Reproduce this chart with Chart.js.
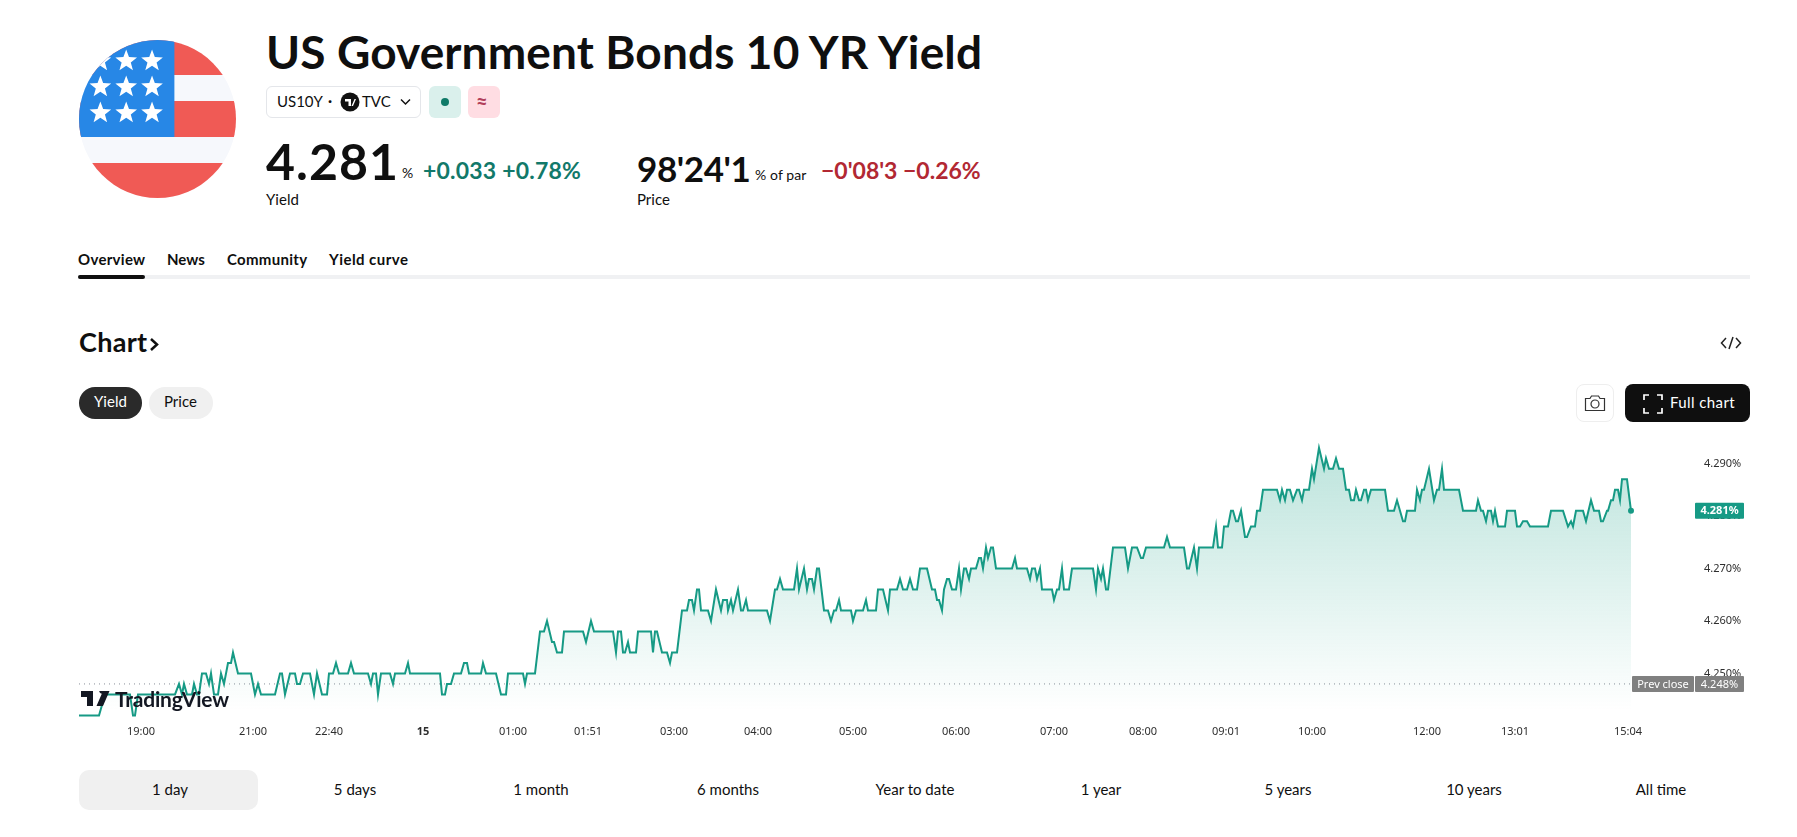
<!DOCTYPE html>
<html>
<head>
<meta charset="utf-8">
<title>US Government Bonds 10 YR Yield</title>
<script src="https://cdn.jsdelivr.net/npm/chart.js@4"></script>
<style>
    html, body { margin: 0; padding: 0; background: #fff; overflow: hidden; }
    body { width: 1797px; height: 837px; position: relative; font-family: "Lato", sans-serif; color: #0f0f0f; }
    .t { position: absolute; white-space: nowrap; line-height: 1; }
    .box { position: absolute; box-sizing: border-box; }
    #chartWrap { position: absolute; left: 79px; top: 431px; width: 1680px; height: 320px; }
</style>
</head>
<body>

<!-- flag -->
<svg class="box" style="left:79px;top:40px" width="157" height="158" viewBox="0 0 158 158" preserveAspectRatio="none">
    <defs><clipPath id="flagClip"><circle cx="79" cy="79" r="79"/></clipPath></defs>
    <g clip-path="url(#flagClip)">
        <rect width="158" height="158" fill="#f6f8fc"/>
        <rect y="0" width="158" height="35" fill="#f05a55"/>
        <rect y="61" width="158" height="36" fill="#f05a55"/>
        <rect y="123" width="158" height="35" fill="#f05a55"/>
        <rect width="96" height="97" fill="#2787e6"/>
        <g id="stars" fill="#fff"></g>
    </g>
</svg>

<div class="t" style="left:266px;top:29px;font-size:46px;font-weight:700;letter-spacing:.12px">US Government Bonds 10 YR Yield</div>

<!-- symbol pill -->
<div class="box" style="left:266px;top:86px;width:155px;height:32px;border:1px solid #e4e6ea;border-radius:6px"></div>
<div class="t" style="left:277px;top:94px;font-size:15px">US10Y</div>
<div class="t" style="left:328px;top:93px;font-size:15px;font-weight:700">·</div>
<svg class="box" style="left:340px;top:92px" width="20" height="20"><circle cx="10" cy="10" r="9.5" fill="#111"/><path d="M5 7h6v7H8.5v-4.500H5zM11.500 14l3-7h1.500l-3 7z" fill="#fff"/></svg>
<div class="t" style="left:362px;top:94px;font-size:15px">TVC</div>
<svg class="box" style="left:400px;top:98px" width="11" height="8"><path d="M1 1.500l4.500 4.500 4.500-4.500" fill="none" stroke="#111" stroke-width="1.500"/></svg>
<div class="box" style="left:429px;top:86px;width:32px;height:32px;border-radius:6px;background:#daf0ec"></div>
<div class="box" style="left:441px;top:98px;width:8px;height:8px;border-radius:50%;background:#0f7a68"></div>
<div class="box" style="left:468px;top:86px;width:32px;height:32px;border-radius:6px;background:#ffdde3"></div>
<div class="t" style="left:476px;top:91px;font-size:20px;font-weight:700;color:#b2405a">≈</div>

<!-- quote -->
<div class="t" style="left:266px;top:136px;font-size:50px;font-weight:700;letter-spacing:1px">4.281</div>
<div class="t" style="left:402px;top:166px;font-size:14px">%</div>
<div class="t" style="left:423px;top:159px;font-size:23px;font-weight:700;color:#12796a;letter-spacing:.2px">+0.033 +0.78%</div>
<div class="t" style="left:266px;top:192px;font-size:15px">Yield</div>
<div class="t" style="left:637px;top:151px;font-size:35px;font-weight:700;letter-spacing:-.4px">98'24'1</div>
<div class="t" style="left:755px;top:168px;font-size:14px;letter-spacing:.1px">% of par</div>
<div class="t" style="left:821px;top:159px;font-size:23px;font-weight:700;color:#b22833;letter-spacing:0">−0'08'3 −0.26%</div>
<div class="t" style="left:637px;top:192px;font-size:15px">Price</div>

<!-- tabs -->
<div class="t" style="left:78px;top:252px;font-size:15px;font-weight:700;letter-spacing:.3px">Overview</div>
<div class="t" style="left:167px;top:252px;font-size:15px;font-weight:700">News</div>
<div class="t" style="left:227px;top:252px;font-size:15px;font-weight:700;letter-spacing:.3px">Community</div>
<div class="t" style="left:329px;top:252px;font-size:15px;font-weight:700;letter-spacing:.45px">Yield curve</div>
<div class="box" style="left:78px;top:275px;width:1672px;height:4px;background:#f0f1f3"></div>
<div class="box" style="left:78px;top:275px;width:67px;height:4px;background:#0f0f0f;border-radius:2px"></div>

<!-- section header -->
<div class="t" style="left:79px;top:328px;font-size:27px;font-weight:700;letter-spacing:.3px">Chart</div>
<svg class="box" style="left:149px;top:337px" width="11" height="15"><path d="M2 2l6 5.500-6 5.500" fill="none" stroke="#0f0f0f" stroke-width="2.500"/></svg>
<svg class="box" style="left:1720px;top:335px" width="22" height="16"><path d="M6 3L1.500 8 6 13M16 3l4.500 5-4.500 5M13 2L9 14" fill="none" stroke="#222" stroke-width="1.500"/></svg>

<div class="box" style="left:79px;top:387px;width:63px;height:32px;border-radius:16px;background:#2a2a2a"></div>
<div class="t" style="left:94px;top:394px;font-size:15px;color:#fff">Yield</div>
<div class="box" style="left:149px;top:387px;width:64px;height:32px;border-radius:16px;background:#f0f0f0"></div>
<div class="t" style="left:164px;top:394px;font-size:15px">Price</div>

<div class="box" style="left:1576px;top:384px;width:38px;height:38px;border:1px solid #eee;border-radius:8px"></div>
<svg class="box" style="left:1584px;top:394px" width="22" height="18"><path d="M1.500 4.500h4.500l1.500-2.500h7l1.500 2.500h4.500v12h-19z" fill="none" stroke="#333" stroke-width="1.200"/><circle cx="11" cy="10" r="4" fill="none" stroke="#333" stroke-width="1.200"/></svg>
<div class="box" style="left:1625px;top:384px;width:125px;height:38px;border-radius:8px;background:#0f0f0f"></div>
<svg class="box" style="left:1643px;top:394px" width="20" height="20"><path d="M1 6V1h5M14 1h5v5M19 14v5h-5M6 19H1v-5" fill="none" stroke="#fff" stroke-width="1.700"/></svg>
<div class="t" style="left:1670px;top:395px;font-size:15px;color:#fff;letter-spacing:.4px">Full chart</div>

<div id="chartWrap"><canvas id="yieldChart"></canvas></div>

<!-- logo sits on top of the chart -->
<svg class="box" style="left:81px;top:691px" width="29" height="15" viewBox="0 0 29 15"><path d="M0 0h12v15H6V6H0zM15.500 0h2.700a2.600 2.600 0 1 1 0 .1zM28.500 0L22 15h-6.500L22 0z" fill="#131722"/></svg>
<div class="t" style="left:115px;top:688px;font-size:21px;font-weight:700;color:#131722;letter-spacing:-.2px">TradingView</div>

<!-- range buttons -->
<div class="box" style="left:79px;top:770px;width:179px;height:40px;border-radius:10px;background:#f0f0f0"></div>
<div id="ranges"></div>

<script>
    // Time axis is in chart bars counted from the first bar of the session
    const barIndex = [
        0, 20, 23, 26, 51, 54, 56, 59, 96, 100,
        103, 105, 108, 113, 115, 118, 120, 123, 127, 130,
        132, 135, 139, 142, 145, 149, 152, 154, 159, 172,
        176, 179, 182, 196, 201, 203, 206, 211, 216, 218,
        221, 224, 231, 235, 238, 243, 248, 250, 254, 257,
        260, 269, 272, 275, 289, 292, 294, 297, 299, 302,
        311, 314, 316, 326, 329, 331, 361, 363, 366, 368,
        372, 375, 382, 385, 388, 390, 402, 404, 407, 417,
        422, 427, 429, 444, 446, 448, 456, 461, 465, 468,
        473, 475, 478, 483, 485, 504, 507, 512, 515, 534,
        537, 539, 542, 544, 546, 549, 551, 557, 559, 572,
        574, 576, 578, 583, 588, 591, 593, 598, 603, 608,
        610, 613, 615, 618, 620, 622, 629, 632, 637, 642,
        644, 648, 649, 652, 654, 659, 662, 664, 667, 669,
        688, 691, 696, 698, 701, 704, 715, 718, 720, 725,
        728, 730, 733, 735, 738, 740, 745, 749, 752, 755,
        757, 760, 762, 772, 774, 777, 784, 787, 789, 797,
        799, 804, 809, 811, 818, 821, 824, 828, 831, 834,
        838, 841, 848, 853, 856, 858, 860, 863, 865, 868,
        870, 873, 877, 880, 882, 885, 887, 890, 892, 897,
        900, 902, 904, 907, 909, 912, 914, 917, 933, 936,
        938, 948, 951, 953, 956, 958, 961, 963, 973, 975,
        978, 980, 983, 985, 990, 993, 1014, 1017, 1019, 1022,
        1024, 1027, 1029, 1034, 1046, 1049, 1053, 1058, 1062, 1064,
        1067, 1085, 1088, 1091, 1105, 1108, 1110, 1115, 1118, 1120,
        1134, 1137, 1139, 1143, 1145, 1149, 1152, 1154, 1157, 1159,
        1162, 1166, 1168, 1172, 1176, 1178, 1181, 1184, 1198, 1201,
        1203, 1206, 1208, 1211, 1214, 1218, 1220, 1223, 1225, 1230,
        1233, 1235, 1240, 1245, 1247, 1250, 1254, 1257, 1260, 1264,
        1267, 1270, 1272, 1275, 1277, 1280, 1282, 1285, 1287, 1289,
        1292, 1306, 1309, 1315, 1318, 1324, 1326, 1328, 1336, 1338,
        1341, 1343, 1345, 1350, 1355, 1358, 1360, 1363, 1365, 1380,
        1384, 1397, 1399, 1402, 1404, 1407, 1409, 1412, 1414, 1416,
        1419, 1426, 1428, 1436, 1438, 1441, 1444, 1448, 1451, 1469,
        1472, 1484, 1489, 1492, 1494, 1497, 1504, 1507, 1512, 1515,
        1520, 1522, 1524, 1528, 1529, 1532, 1534, 1536, 1539, 1541,
        1543, 1548, 1552
    ];
    const yieldValues = [
        4.242, 4.242, 4.244, 4.246, 4.246, 4.242, 4.242, 4.246, 4.246, 4.248,
        4.246, 4.248, 4.246, 4.246, 4.248, 4.246, 4.246, 4.250, 4.250, 4.248,
        4.250, 4.246, 4.246, 4.250, 4.248, 4.252, 4.252, 4.254, 4.250, 4.250,
        4.246, 4.248, 4.246, 4.246, 4.250, 4.250, 4.246, 4.250, 4.250, 4.248,
        4.248, 4.250, 4.250, 4.246, 4.250, 4.246, 4.246, 4.250, 4.250, 4.252,
        4.250, 4.250, 4.252, 4.250, 4.250, 4.248, 4.250, 4.250, 4.246, 4.250,
        4.250, 4.248, 4.250, 4.250, 4.252, 4.250, 4.250, 4.246, 4.246, 4.248,
        4.248, 4.250, 4.250, 4.252, 4.252, 4.250, 4.250, 4.252, 4.250, 4.250,
        4.246, 4.246, 4.250, 4.250, 4.248, 4.250, 4.250, 4.258, 4.258, 4.260,
        4.256, 4.256, 4.254, 4.254, 4.258, 4.258, 4.256, 4.260, 4.258, 4.258,
        4.254, 4.258, 4.258, 4.254, 4.254, 4.256, 4.254, 4.254, 4.258, 4.258,
        4.254, 4.258, 4.258, 4.254, 4.254, 4.252, 4.254, 4.254, 4.262, 4.262,
        4.264, 4.264, 4.262, 4.266, 4.266, 4.262, 4.262, 4.260, 4.266, 4.262,
        4.264, 4.264, 4.262, 4.264, 4.262, 4.266, 4.262, 4.262, 4.264, 4.262,
        4.262, 4.260, 4.266, 4.266, 4.268, 4.266, 4.266, 4.270, 4.266, 4.270,
        4.266, 4.268, 4.268, 4.266, 4.270, 4.270, 4.262, 4.262, 4.260, 4.262,
        4.262, 4.264, 4.262, 4.262, 4.260, 4.262, 4.262, 4.264, 4.262, 4.262,
        4.266, 4.266, 4.262, 4.266, 4.266, 4.268, 4.266, 4.266, 4.268, 4.266,
        4.266, 4.270, 4.270, 4.266, 4.266, 4.264, 4.264, 4.262, 4.266, 4.268,
        4.268, 4.266, 4.266, 4.270, 4.266, 4.270, 4.270, 4.268, 4.270, 4.270,
        4.272, 4.272, 4.270, 4.274, 4.272, 4.274, 4.274, 4.270, 4.270, 4.272,
        4.270, 4.270, 4.268, 4.270, 4.270, 4.268, 4.270, 4.266, 4.266, 4.264,
        4.266, 4.266, 4.270, 4.266, 4.266, 4.270, 4.270, 4.266, 4.270, 4.268,
        4.270, 4.266, 4.266, 4.274, 4.274, 4.270, 4.274, 4.274, 4.272, 4.272,
        4.274, 4.274, 4.276, 4.274, 4.274, 4.270, 4.270, 4.274, 4.270, 4.274,
        4.274, 4.278, 4.274, 4.274, 4.278, 4.278, 4.281, 4.281, 4.279, 4.279,
        4.281, 4.276, 4.276, 4.278, 4.278, 4.281, 4.281, 4.285, 4.285, 4.283,
        4.285, 4.283, 4.285, 4.285, 4.283, 4.285, 4.285, 4.283, 4.285, 4.285,
        4.289, 4.287, 4.293, 4.289, 4.291, 4.289, 4.289, 4.291, 4.289, 4.289,
        4.285, 4.285, 4.283, 4.283, 4.285, 4.283, 4.283, 4.285, 4.285, 4.283,
        4.285, 4.285, 4.281, 4.281, 4.283, 4.279, 4.279, 4.281, 4.281, 4.285,
        4.283, 4.285, 4.285, 4.289, 4.283, 4.285, 4.285, 4.289, 4.285, 4.285,
        4.281, 4.281, 4.283, 4.281, 4.281, 4.279, 4.281, 4.281, 4.279, 4.281,
        4.278, 4.278, 4.281, 4.281, 4.278, 4.278, 4.279, 4.279, 4.278, 4.278,
        4.281, 4.281, 4.278, 4.279, 4.278, 4.281, 4.281, 4.279, 4.283, 4.281,
        4.281, 4.279, 4.279, 4.281, 4.281, 4.283, 4.283, 4.285, 4.285, 4.283,
        4.287, 4.287, 4.281
    ];
    const tickBars = [62, 174, 250, 344, 434, 509, 595, 679, 774, 877, 975, 1064, 1147, 1233, 1348, 1436, 1549];
    const tickLabels = ["19:00", "21:00", "22:40", "15", "01:00", "01:51", "03:00", "04:00", "05:00", "06:00", "07:00", "08:00", "09:01", "10:00", "12:00", "13:01", "15:04"];
    const prevClose = 4.248;
    const lastValue = 4.281;
    const rangeLabels = ["1 day", "5 days", "1 month", "6 months", "Year to date", "1 year", "5 years", "10 years", "All time"];
    const rangeCenters = [170, 355, 541, 728, 915, 1101, 1288, 1474, 1661];

    const lineColor = "#169a85";
    const grayLabel = "#808080";
    const tickFont = '"Noto Sans", sans-serif';

    // flag stars
    const starsEl = document.getElementById("stars");
    [21.5, 47.5, 73.5].forEach((cx) => {
        [21, 47, 73].forEach((cy) => {
            let pts = [];
            for (let i = 0; i < 10; i++) {
                const r = i % 2 === 0 ? 11.5 : 4.8;
                const a = -Math.PI / 2 + (i * Math.PI) / 5;
                pts.push((cx + r * Math.cos(a)).toFixed(1) + "," + (cy + r * Math.sin(a)).toFixed(1));
            }
            const star = document.createElementNS("http://www.w3.org/2000/svg", "polygon");
            star.setAttribute("points", pts.join(" "));
            starsEl.appendChild(star);
        });
    });

    // range buttons
    const rangesEl = document.getElementById("ranges");
    rangeLabels.forEach((label, i) => {
        const d = document.createElement("div");
        d.className = "t";
        d.textContent = label;
        d.style.cssText = "top:782px;font-size:15px;transform:translateX(-50%);left:" + rangeCenters[i] + "px";
        rangesEl.appendChild(d);
    });

    // Labels on the price axis for last value and previous close
    const priceLabels = {
        id: "priceLabels",
        afterDraw(chart) {
            const { ctx, scales } = chart;
            const drawBox = (x, w, y, color, text, weight) => {
                ctx.fillStyle = color;
                ctx.beginPath();
                ctx.roundRect(x, y - 8, w, 16, 1);
                ctx.fill();
                ctx.fillStyle = "#fff";
                ctx.font = weight + " 11px " + tickFont;
                ctx.textAlign = "center";
                ctx.textBaseline = "middle";
                ctx.fillText(text, x + w / 2, y + 0.5);
            };
            const axisX = scales.y.left - 5;
            const yLast = scales.y.getPixelForValue(lastValue);
            const yPrev = scales.y.getPixelForValue(prevClose);
            drawBox(axisX, 49, yLast, lineColor, lastValue.toFixed(3) + "%", "700");
            drawBox(axisX, 49, yPrev, grayLabel, prevClose.toFixed(3) + "%", "400");
            drawBox(axisX - 63, 62, yPrev, grayLabel, "Prev close", "400");
        }
    };

    const ctx = document.getElementById("yieldChart").getContext("2d");
    new Chart(ctx, {
        type: "line",
        data: {
            datasets: [
                {
                    data: barIndex.map((b, i) => ({ x: b, y: yieldValues[i] })),
                    borderColor: lineColor,
                    borderWidth: 2,
                    tension: 0,
                    pointRadius: (c) => (c.dataIndex === barIndex.length - 1 ? 3 : 0),
                    pointBackgroundColor: lineColor,
                    pointBorderWidth: 0,
                    fill: "start",
                    backgroundColor: (c) => {
                        const area = c.chart.chartArea;
                        if (!area) return "transparent";
                        const g = c.chart.ctx.createLinearGradient(0, area.top, 0, area.bottom - 6);
                        g.addColorStop(0, "rgba(22,160,133,0.30)");
                        g.addColorStop(1, "rgba(22,160,133,0)");
                        return g;
                    }
                },
                {
                    data: [{ x: 0, y: prevClose }, { x: barIndex[barIndex.length - 1] + 1, y: prevClose }],
                    borderColor: "#8a8f99",
                    borderWidth: 1,
                    borderDash: [1, 4],
                    pointRadius: 0,
                    fill: false
                }
            ]
        },
        options: {
            responsive: true,
            maintainAspectRatio: false,
            animation: false,
            layout: { padding: 0, autoPadding: false },
            plugins: { legend: { display: false }, tooltip: { enabled: false } },
            scales: {
                x: {
                    type: "linear",
                    min: 0,
                    max: 1621,
                    grid: { display: false, drawTicks: false },
                    border: { display: false },
                    afterBuildTicks: (axis) => {
                        axis.ticks = tickBars.map((v) => ({ value: v }));
                    },
                    afterFit: (axis) => {
                        axis.height = 34;
                        axis.paddingLeft = 0;
                        axis.paddingRight = 0;
                    },
                    ticks: {
                        autoSkip: false,
                        maxRotation: 0,
                        padding: 8,
                        color: "#2e2e2e",
                        font: (c) => ({
                            family: tickFont,
                            size: 11,
                            weight: c.tick && tickLabels[tickBars.indexOf(c.tick.value)] === "15" ? "700" : "400"
                        }),
                        callback: (v) => tickLabels[tickBars.indexOf(v)]
                    }
                },
                y: {
                    position: "right",
                    min: 4.2417,
                    max: 4.2962,
                    grid: { display: false, drawTicks: false },
                    border: { display: false },
                    afterFit: (axis) => {
                        axis.width = 59;
                        axis.paddingTop = 0;
                        axis.paddingBottom = 0;
                    },
                    ticks: {
                        stepSize: 0.01,
                        includeBounds: false,
                        padding: 4,
                        color: "#2e2e2e",
                        font: { family: tickFont, size: 11 },
                        callback: (v) => v.toFixed(3) + "%"
                    }
                }
            }
        },
        plugins: [priceLabels]
    });
</script>
</body>
</html>
